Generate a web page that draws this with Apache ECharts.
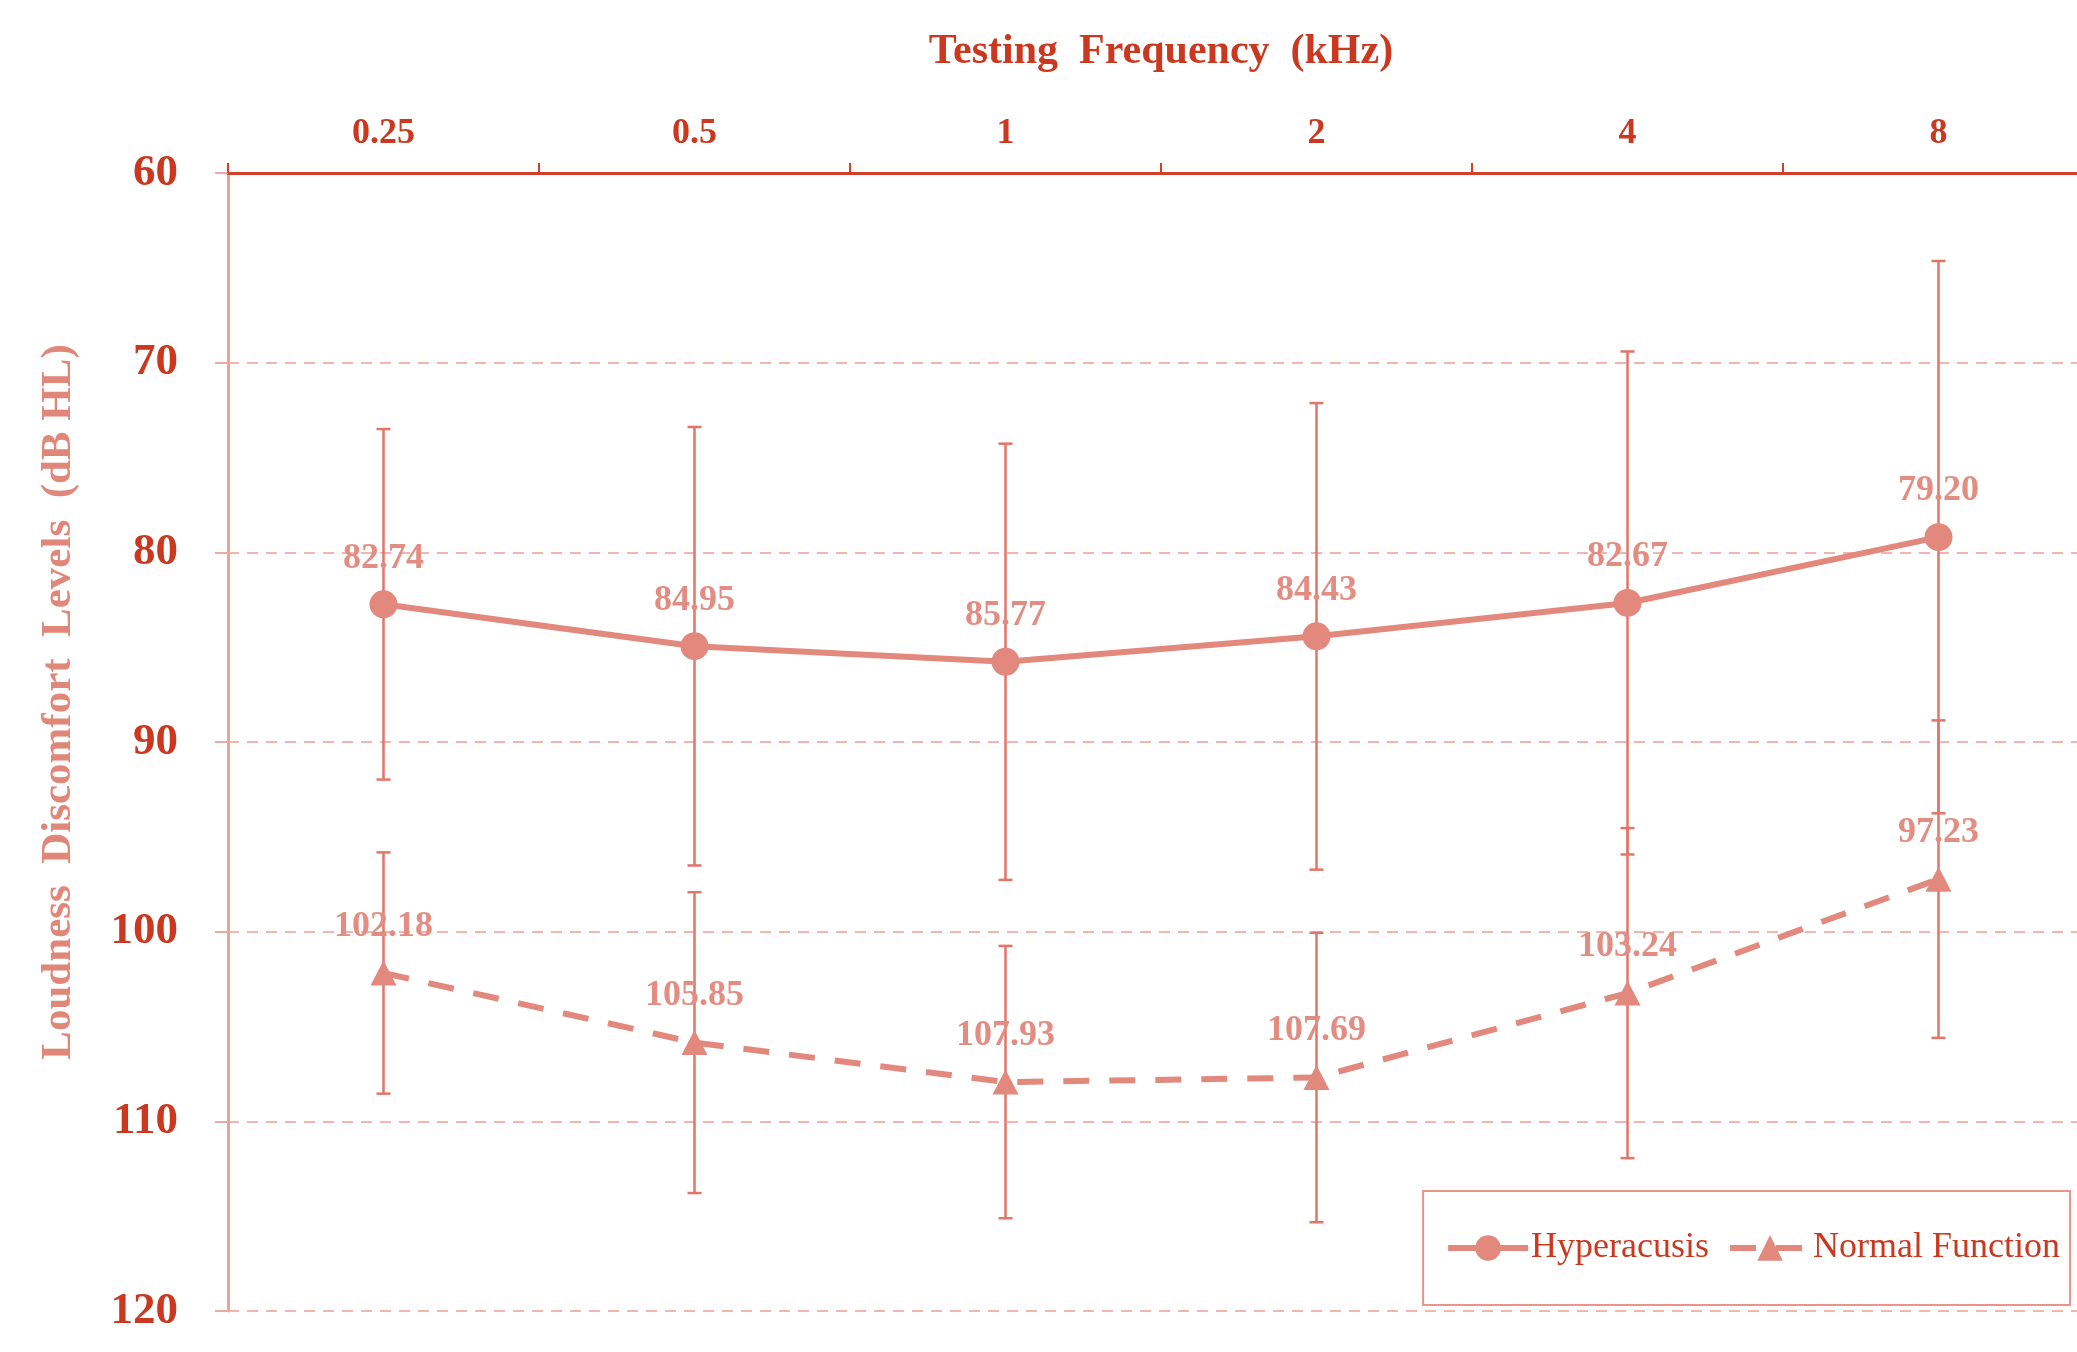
<!DOCTYPE html>
<html>
<head>
<meta charset="utf-8">
<script src="https://cdn.jsdelivr.net/npm/echarts@6/dist/echarts.min.js"></script>
<style>
html,body{margin:0;padding:0;background:#fff;}
#chart{width:2077px;height:1352px;}
</style>
</head>
<body>
<div id="chart"></div>
<script>
const categories = ['0.25', '0.5', '1', '2', '4', '8'];
const hyperacusisMean = [82.74, 84.95, 85.77, 84.43, 82.67, 79.20];
const hyperacusisSD = [9.24, 11.56, 11.50, 12.30, 13.26, 14.56];
const normalMean = [102.18, 105.85, 107.93, 107.69, 103.24, 97.23];
const normalSD = [6.36, 7.93, 7.18, 7.63, 8.70, 8.37];
const yTicks = [60, 70, 80, 90, 100, 110, 120];

const FONT = '"Liberation Serif", "Times New Roman", serif';
const RED = '#C9381F';
const SALMON = '#E2887C';
const LABEL = '#E38D82';
const ERR = '#E27468';

function errData(mean, sd) {
  return mean.map((m, i) => [i, m - sd[i], m + sd[i]]);
}

function errRender(params, api) {
  const x = api.value(0);
  const lo = api.coord([x, api.value(1)]);
  const hi = api.coord([x, api.value(2)]);
  const w = 7;
  const st = { stroke: ERR, lineWidth: 2.5, fill: null };
  return {
    type: 'group',
    children: [
      { type: 'line', shape: { x1: lo[0], y1: lo[1], x2: hi[0], y2: hi[1] }, style: st },
      { type: 'line', shape: { x1: lo[0] - w, y1: lo[1], x2: lo[0] + w, y2: lo[1] }, style: st },
      { type: 'line', shape: { x1: hi[0] - w, y1: hi[1], x2: hi[0] + w, y2: hi[1] }, style: st }
    ]
  };
}

const chart = echarts.init(document.getElementById('chart'), null, { renderer: 'canvas' });
chart.setOption({
  animation: false,
  backgroundColor: '#fff',
  textStyle: { fontFamily: FONT },
  grid: { left: 228, top: 173, right: -17, bottom: 41, outerBoundsMode: 'none', containLabel: false },
  legend: {
    right: 7,
    bottom: 47,
    orient: 'horizontal',
    data: ['Hyperacusis', 'Normal Function'],
    itemWidth: 80,
    itemHeight: 32,
    itemGap: 18,
    padding: [39, 10, 39, 22],
    borderColor: '#E8968B',
    borderWidth: 2,
    backgroundColor: '#fff',
    lineStyle: { width: 6 },
    textStyle: { fontFamily: FONT, fontSize: 36, color: RED, padding: [0, 0, 0, -2] }
  },
  xAxis: {
    type: 'category',
    position: 'top',
    data: categories,
    boundaryGap: true,
    name: 'Testing  Frequency  (kHz)',
    nameLocation: 'middle',
    nameGap: 100,
    nameTextStyle: { fontFamily: FONT, fontSize: 42, fontWeight: 'bold', color: RED },
    axisLine: { onZero: false, lineStyle: { color: '#D0402A', width: 3 } },
    axisTick: { show: true, length: 10, lineStyle: { color: '#D0402A', width: 2 } },
    axisLabel: { margin: 21, fontFamily: FONT, fontSize: 36, fontWeight: 'bold', color: RED },
    splitLine: { show: false }
  },
  yAxis: {
    type: 'value',
    inverse: true,
    min: 60,
    max: 120,
    interval: 10,
    name: 'Loudness  Discomfort  Levels  (dB HL)',
    nameLocation: 'middle',
    nameRotate: 90,
    nameGap: 148,
    nameTextStyle: { fontFamily: FONT, fontSize: 43, fontWeight: 'bold', color: '#E0877A', padding: [0, 0, 0, 80] },
    axisLine: { show: true, lineStyle: { color: '#E8A39A', width: 3 } },
    axisTick: { show: true, length: 13, lineStyle: { color: '#EBABA2', width: 2 } },
    axisLabel: {
      margin: 50, fontFamily: FONT, fontSize: 45, fontWeight: 'bold', color: RED,
      formatter: v => (yTicks.indexOf(v) >= 0 ? String(v) : '')
    },
    splitLine: { show: true, lineStyle: { color: '#F2B6AE', width: 2, type: [11, 8] } }
  },
  series: [
    {
      name: 'Hyperacusis err',
      type: 'custom',
      renderItem: errRender,
      data: errData(hyperacusisMean, hyperacusisSD),
      encode: { x: 0, y: [1, 2] },
      z: 2,
      silent: true
    },
    {
      name: 'Normal Function err',
      type: 'custom',
      renderItem: errRender,
      data: errData(normalMean, normalSD),
      encode: { x: 0, y: [1, 2] },
      z: 2,
      silent: true
    },
    {
      name: 'Hyperacusis',
      type: 'line',
      data: hyperacusisMean,
      z: 3,
      symbol: 'circle',
      symbolSize: 28,
      itemStyle: { color: SALMON },
      lineStyle: { color: SALMON, width: 6 },
      label: {
        show: true, position: 'top', distance: 14,
        fontFamily: FONT, fontSize: 36, fontWeight: 'bold', color: LABEL,
        formatter: p => p.value.toFixed(2)
      }
    },
    {
      name: 'Normal Function',
      type: 'line',
      data: normalMean,
      z: 3,
      symbol: 'triangle',
      symbolSize: [26, 25],
      itemStyle: { color: SALMON },
      lineStyle: { color: SALMON, width: 6, type: [26, 20] },
      label: {
        show: true, position: 'top', distance: 16,
        fontFamily: FONT, fontSize: 36, fontWeight: 'bold', color: LABEL,
        formatter: p => p.value.toFixed(2)
      }
    }
  ]
});
</script>
</body>
</html>
